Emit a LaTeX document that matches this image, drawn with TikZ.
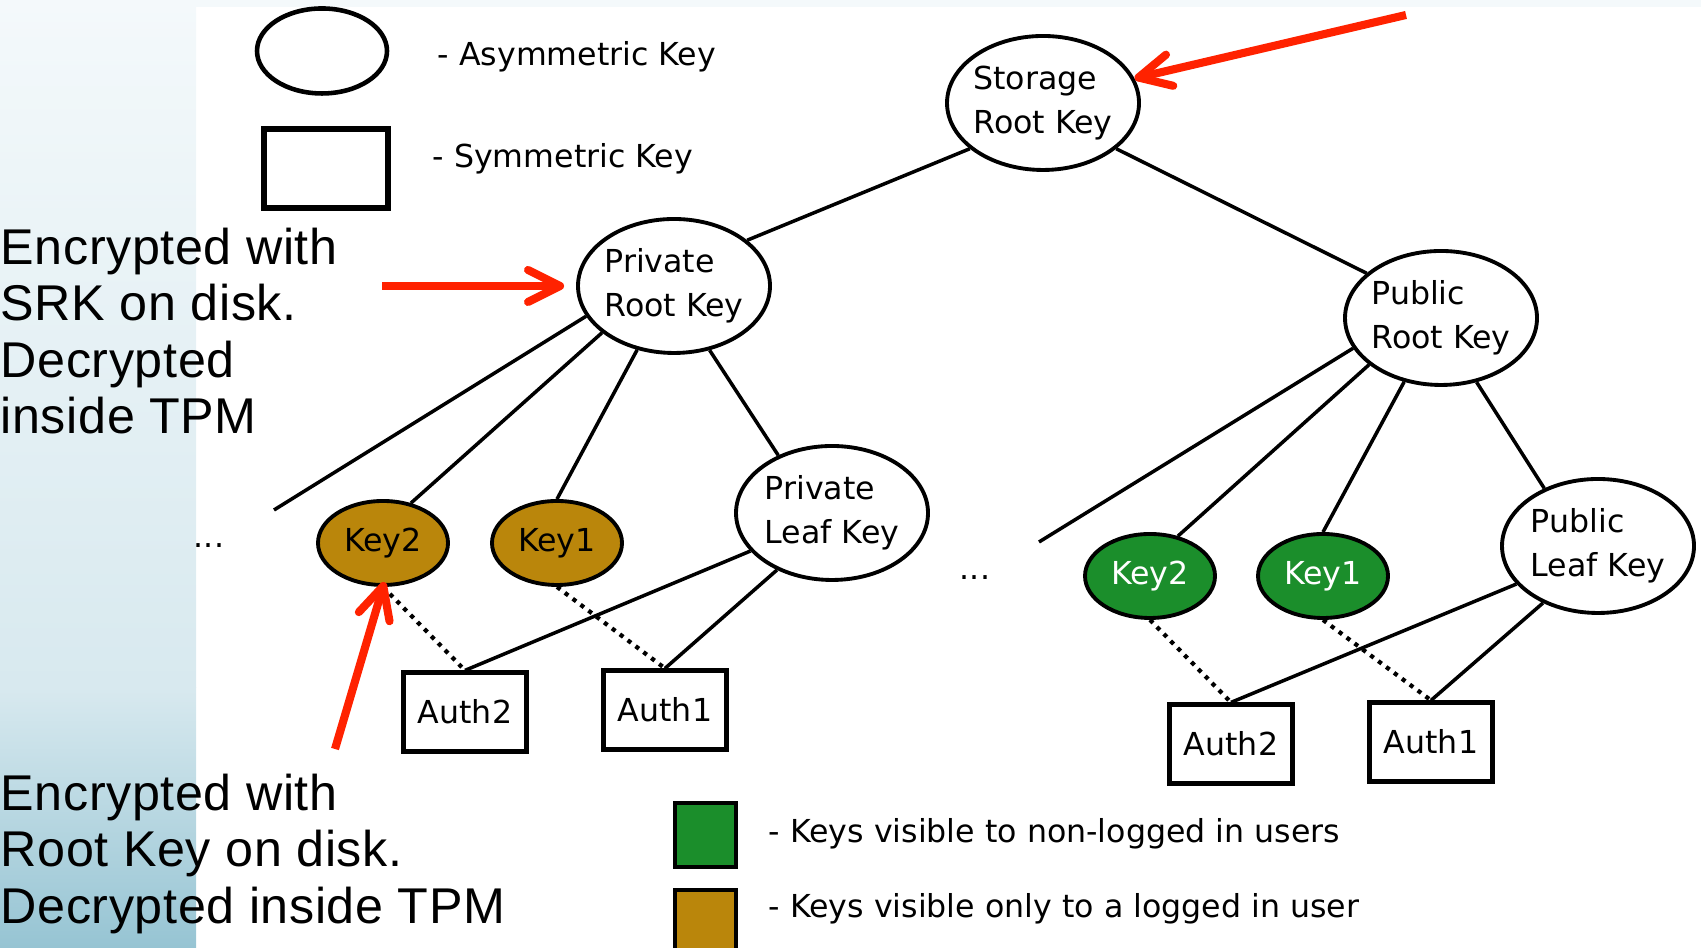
\documentclass[tikz,border=0pt]{standalone}
\usepackage{fontspec}
\usepackage{tikz}
\usetikzlibrary{shapes.geometric,arrows.meta}
\newfontfamily\keyfont{DejaVu Sans}
\newfontfamily\notefont[LetterSpace=1.2]{Liberation Sans}
\definecolor{tpmred}{RGB}{255,34,0}
\definecolor{loggedbrown}{RGB}{186,134,11}
\definecolor{publicgreen}{RGB}{27,142,43}
\definecolor{panelblue}{RGB}{150,196,211}
\definecolor{panellight}{RGB}{244,249,251}
\tikzset{
  keytext/.style={font=\keyfont\fontsize{9}{12.4}\selectfont},
  akey/.style={ellipse, draw, line width=1.1pt, fill=white, inner sep=-1pt,
    minimum width=1.92cm, minimum height=1.34cm, align=left, keytext},
  ukey/.style={ellipse, draw, line width=1.1pt, inner sep=0pt,
    minimum width=1.30cm, minimum height=0.84cm, keytext},
  authbox/.style={rectangle, draw, line width=1.2pt, fill=white,
    minimum width=1.23cm, minimum height=0.79cm, keytext},
  branch/.style={line width=1pt},
  authlink/.style={line width=1.2pt, dash pattern=on 1.2pt off 1.6pt},
  note/.style={font=\notefont\fontsize{14.3}{16.1}\selectfont, align=left, inner sep=0pt},
  redarrow/.style={draw=tpmred, line width=2.3pt, -{Straight Barb[length=3.2mm, width=3.2mm, round]}}
}

\begin{document}
\begin{tikzpicture}
		%%%%% START %%%%%
		\useasboundingbox (0, 0) rectangle (17.01, 9.48);
		
		\shade[top color=panellight!70!panelblue, bottom color=panelblue] (0, 0) rectangle (1.96, 2.6);
		\shade[top color=panellight, bottom color=panellight!70!panelblue] (0, 2.6) rectangle (1.96, 9.48);
		\fill[panellight] (0, 9.41) rectangle (17.01, 9.48);
		
		% legend
		\node[ellipse, draw, line width=1.3pt, minimum width=1.30cm, minimum height=0.85cm] (asymsample) at (3.22, 8.97) {};
		\node[rectangle, draw, line width=1.5pt, minimum width=1.24cm, minimum height=0.79cm] (symsample) at (3.26, 7.795) {};
		\node[keytext, anchor=west, inner sep=0pt] (asymlabel) at (4.37, 8.91) {- Asymmetric Key};
		\node[keytext, anchor=west, inner sep=0pt] (symlabel) at (4.32, 7.89) {- Symmetric Key};
		\node[rectangle, draw, line width=1.3pt, fill=publicgreen, minimum width=0.61cm, minimum height=0.64cm] (greensample) at (7.055, 1.13) {};
		\node[rectangle, draw, line width=1.3pt, fill=loggedbrown, minimum width=0.61cm, minimum height=0.64cm] (brownsample) at (7.055, 0.26) {};
		\node[keytext, anchor=west, inner sep=0pt] (greenlabel) at (7.68, 1.14) {- Keys visible to non-logged in users};
		\node[keytext, anchor=west, inner sep=0pt] (brownlabel) at (7.68, 0.39) {- Keys visible only to a logged in user};
		
		% key tree
		\node[akey] (srk) at (10.43, 8.45) {Storage\\Root Key};
		\node[akey] (prk) at (6.74, 6.62) {Private\\Root Key};
		\node[akey] (pubrk) at (14.41, 6.30) {Public\\Root Key};
		\node[akey] (prleaf) at (8.32, 4.35) {Private\\Leaf Key};
		\node[akey] (puleaf) at (15.98, 4.02) {Public\\Leaf Key};
		
		\node[ukey, fill=loggedbrown] (bkey2) at (3.83, 4.05) {Key2};
		\node[ukey, fill=loggedbrown] (bkey1) at (5.57, 4.05) {Key1};
		\node[ukey, fill=publicgreen, text=white] (gkey2) at (11.50, 3.72) {Key2};
		\node[ukey, fill=publicgreen, text=white] (gkey1) at (13.23, 3.72) {Key1};
		
		\node[authbox] (pauth2) at (4.65, 2.36) {Auth2};
		\node[authbox] (pauth1) at (6.65, 2.38) {Auth1};
		\node[authbox] (uauth2) at (12.31, 2.04) {Auth2};
		\node[authbox] (uauth1) at (14.31, 2.06) {Auth1};
		
		\node[keytext] (pdots) at (2.09, 4.02) {...};
		\node[keytext] (udots) at (9.75, 3.70) {...};
		\coordinate (prkend) at (2.74, 4.38);
		\coordinate (pubrkend) at (10.39, 4.06);
		
		\draw[branch] (srk.212) -- (prk.32);
		\draw[branch] (srk.328) -- (pubrk.149);
		
		\draw[branch] (prk.199) -- (prkend);
		\draw[branch] (prk.213) -- (bkey2.55);
		\draw[branch] (prk.240) -- (bkey1.north);
		\draw[branch] (prk.299) -- (prleaf.133);
		\draw[branch] (prleaf.205) -- (pauth2.north);
		\draw[branch] (prleaf.226) -- (pauth1.north);
		\draw[authlink] (bkey2.south) -- (pauth2.north);
		\draw[authlink] (bkey1.south) -- (pauth1.north);
		
		\draw[branch] (pubrk.199) -- (pubrkend);
		\draw[branch] (pubrk.213) -- (gkey2.55);
		\draw[branch] (pubrk.240) -- (gkey1.north);
		\draw[branch] (pubrk.299) -- (puleaf.133);
		\draw[branch] (puleaf.205) -- (uauth2.north);
		\draw[branch] (puleaf.226) -- (uauth1.north);
		\draw[authlink] (gkey2.south) -- (uauth2.north);
		\draw[authlink] (gkey1.south) -- (uauth1.north);
		
		% notes
		\node[note, anchor=north west] (srknote) at (0, 7.21) {Encrypted with\\SRK on disk.\\Decrypted\\inside TPM};
		\node[note, anchor=north west] (rootnote) at (0, 1.75) {Encrypted with\\Root Key on disk.\\Decrypted inside TPM};
		
		\coordinate (srktail) at (14.06, 9.33);
		\coordinate (prktail) at (3.82, 6.62);
		\coordinate (keytail) at (3.35, 1.99);
		\draw[redarrow] (srktail) -- (srk.15);
		\draw[redarrow, shorten >=0.12cm] (prktail) -- (prk.west);
		\draw[redarrow, shorten >=-0.05cm] (keytail) -- (bkey2.south);
		
		%%%%% END %%%%%
	\end{tikzpicture}
\end{document}
